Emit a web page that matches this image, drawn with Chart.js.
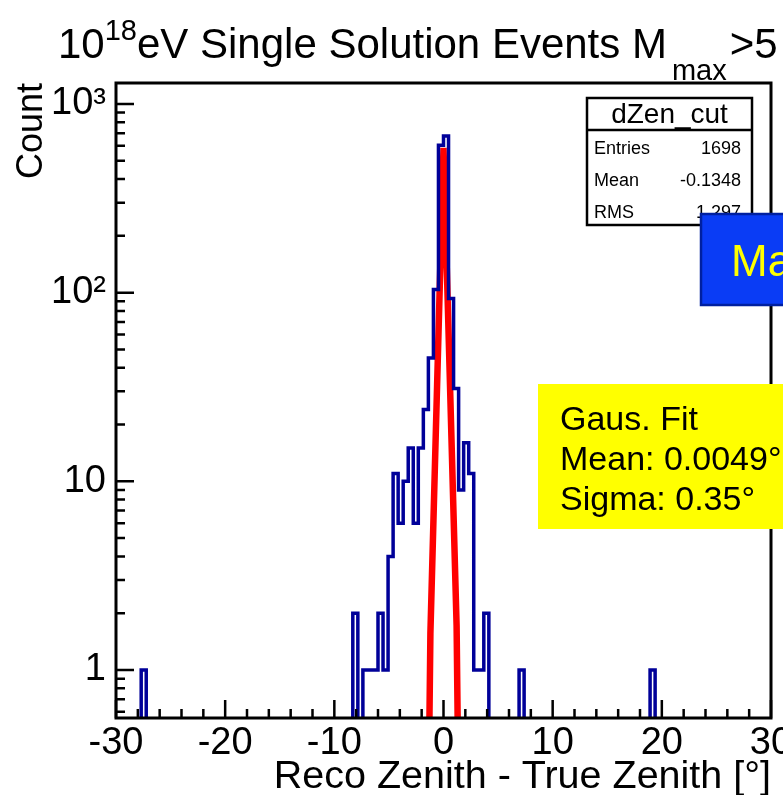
<!DOCTYPE html>
<html>
<head>
<meta charset="utf-8">
<script src="https://cdn.jsdelivr.net/npm/chart.js@4.4.1/dist/chart.umd.min.js"></script>
<style>
  html, body { margin: 0; padding: 0; background: #fff; }
  canvas { display: block; }
</style>
</head>
<body>
<canvas id="dzen" width="783" height="795"></canvas>
<script>
const FONT = '"Liberation Sans", Arial, Helvetica, sans-serif';

// dZen_cut: 130 bins between -30 and 30 degrees
const binLow = -30;
const binHigh = 30;
const binCounts = [
  0, 0, 0, 0, 0, 1, 0, 0, 0, 0,
  0, 0, 0, 0, 0, 0, 0, 0, 0, 0,
  0, 0, 0, 0, 0, 0, 0, 0, 0, 0,
  0, 0, 0, 0, 0, 0, 0, 0, 0, 0,
  0, 0, 0, 0, 0, 0, 0, 2, 0, 1,
  1, 1, 2, 1, 4, 11, 6, 10, 15, 6,
  15, 24, 45, 104, 605, 676, 93, 31, 9, 16,
  11, 1, 1, 2, 0, 0, 0, 0, 0, 0,
  1, 0, 0, 0, 0, 0, 0, 0, 0, 0,
  0, 0, 0, 0, 0, 0, 0, 0, 0, 0,
  0, 0, 0, 0, 0, 0, 1, 0, 0, 0,
  0, 0, 0, 0, 0, 0, 0, 0, 0, 0,
  0, 0, 0, 0, 0, 0, 0, 0, 0, 0
];

// gaussian fit result
const fitMean = 0.0049;
const fitSigma = 0.35;
const fitConstant = 585;
const fitStep = 1.2;

// axes
const xTicks = [-30, -20, -10, 0, 10, 20, 30];
const yMajor = [1, 10, 100, 1000];
const yMajorLabels = ['1', '10', '10\u00B2', '10\u00B3'];
const yMin = 0.5566;
const yMax = 1292;

// text boxes
const titleParts = [
  ['10', 'n'], ['18', 'sup'], ['eV Single Solution Events M', 'n'], ['max', 'sub'], ['>5', 'n']
];
const statsName = 'dZen_cut';
const statsRows = [['Entries', '1698'], ['Mean', '-0.1348'], ['RMS', '1.297']];
const fitLines = ['Gaus. Fit', 'Mean: 0.0049\u00B0', 'Sigma: 0.35\u00B0'];
const noteText = 'Ma';

// build step outline; empty bins sit below the axis and get clipped
const binWidth = (binHigh - binLow) / binCounts.length;
const emptyLevel = 0.01;
const histPoints = binCounts.map((c, i) => ({ x: binLow + i * binWidth, y: c > 0 ? c : emptyLevel }));
histPoints.push({ x: binHigh, y: emptyLevel });

const fitPoints = [];
for (let i = 0; binLow + i * fitStep <= binHigh + 1e-9; i++) {
  const x = binLow + i * fitStep;
  const u = (x - fitMean) / fitSigma;
  fitPoints.push({ x: x, y: Math.max(fitConstant * Math.exp(-0.5 * u * u), 1e-6) });
}

const yTickValues = [];
for (let e = -1; e <= 3; e++) {
  for (let d = 1; d <= 9; d++) {
    const v = +(d * Math.pow(10, e)).toPrecision(6);
    if (v >= yMin && v <= yMax) yTickValues.push(v);
  }
}

function drawFrame(chart) {
  const ctx = chart.ctx;
  const a = chart.chartArea;
  const xs = chart.scales.x, ys = chart.scales.y;
  ctx.save();
  ctx.strokeStyle = '#000';
  ctx.lineWidth = 2.5;
  ctx.beginPath();
  for (let v = binLow; v <= binHigh; v += 2) {
    const px = xs.getPixelForValue(v);
    const len = v % 10 === 0 ? 18 : 9;
    ctx.moveTo(px, a.bottom);
    ctx.lineTo(px, a.bottom - len);
  }
  yTickValues.forEach(v => {
    const py = ys.getPixelForValue(v);
    const len = yMajor.indexOf(v) >= 0 ? 18 : 9;
    ctx.moveTo(a.left, py);
    ctx.lineTo(a.left + len, py);
  });
  ctx.stroke();
  ctx.lineWidth = 3;
  ctx.strokeRect(a.left, a.top, a.right - a.left, a.bottom - a.top);
  ctx.restore();
}

function drawTitle(ctx) {
  ctx.save();
  ctx.fillStyle = '#000';
  ctx.textAlign = 'left';
  ctx.textBaseline = 'alphabetic';
  let x = 58;
  titleParts.forEach(([txt, kind]) => {
    let y = 58;
    if (kind === 'n') ctx.font = '42px ' + FONT;
    else ctx.font = '29px ' + FONT;
    if (kind === 'sup') y = 40;
    if (kind === 'sub') { y = 80; x += 5; }
    ctx.fillText(txt, x, y);
    x += ctx.measureText(txt).width;
    if (kind === 'sub') x += 3;
  });
  ctx.restore();
}

function drawStats(ctx) {
  const left = 587, top = 98, w = 165, h = 127, split = 130;
  ctx.save();
  ctx.fillStyle = '#fff';
  ctx.fillRect(left, top, w, h);
  ctx.strokeStyle = '#000';
  ctx.lineWidth = 2.5;
  ctx.strokeRect(left, top, w, h);
  ctx.beginPath();
  ctx.moveTo(left, split);
  ctx.lineTo(left + w, split);
  ctx.stroke();
  ctx.fillStyle = '#000';
  ctx.font = '28px ' + FONT;
  ctx.textAlign = 'center';
  ctx.textBaseline = 'alphabetic';
  ctx.fillText(statsName, left + w / 2, 123);
  ctx.font = '18px ' + FONT;
  statsRows.forEach(([name, val], i) => {
    const base = 154 + i * 32;
    ctx.textAlign = 'left';
    ctx.fillText(name, left + 7, base);
    ctx.textAlign = 'right';
    ctx.fillText(val, 741, base);
  });
  ctx.restore();
}

function drawNote(ctx) {
  ctx.save();
  ctx.fillStyle = '#0a3cf5';
  ctx.fillRect(701, 214, 90, 91);
  ctx.strokeStyle = '#0020a0';
  ctx.lineWidth = 2.5;
  ctx.strokeRect(701, 214, 90, 91);
  ctx.fillStyle = '#ffff00';
  ctx.font = '44px ' + FONT;
  ctx.textAlign = 'left';
  ctx.textBaseline = 'alphabetic';
  ctx.fillText(noteText, 731, 276);
  ctx.restore();
}

function drawFitBox(ctx) {
  ctx.save();
  ctx.fillStyle = '#ffff00';
  ctx.fillRect(538, 384, 250, 145);
  ctx.fillStyle = '#000';
  ctx.font = '34px ' + FONT;
  ctx.textAlign = 'left';
  ctx.textBaseline = 'alphabetic';
  fitLines.forEach((t, i) => ctx.fillText(t, 560, 430 + i * 40));
  ctx.restore();
}

const rootStyle = {
  id: 'rootStyle',
  afterDatasetsDraw(chart) {
    drawFrame(chart);
  },
  afterDraw(chart) {
    const ctx = chart.ctx;
    drawTitle(ctx);
    drawStats(ctx);
    drawNote(ctx);
    drawFitBox(ctx);
  }
};

const ctx = document.getElementById('dzen').getContext('2d');
new Chart(ctx, {
  type: 'line',
  data: {
    datasets: [
      {
        label: statsName,
        data: histPoints,
        stepped: true,
        borderColor: '#000099',
        borderWidth: 3.5,
        pointRadius: 0,
        fill: false
      },
      {
        // pale core of the outline
        label: statsName + ' core',
        data: histPoints,
        stepped: true,
        borderColor: 'rgba(205, 205, 240, 0.9)',
        borderWidth: 1,
        pointRadius: 0,
        fill: false
      },
      {
        label: fitLines[0],
        data: fitPoints,
        borderColor: '#ff0000',
        borderWidth: 6.5,
        borderJoinStyle: 'bevel',
        pointRadius: 0,
        fill: false
      }
    ]
  },
  options: {
    responsive: false,
    animation: false,
    devicePixelRatio: 1,
    layout: { padding: { top: 83, right: 12, left: 0, bottom: 0 } },
    plugins: {
      legend: { display: false },
      tooltip: { enabled: false }
    },
    scales: {
      x: {
        type: 'linear',
        min: binLow,
        max: binHigh,
        bounds: 'data',
        grid: { display: false, drawTicks: false },
        border: { display: false },
        afterBuildTicks: s => { s.ticks = xTicks.map(v => ({ value: v })); },
        ticks: {
          autoSkip: false,
          maxRotation: 0,
          padding: 3,
          color: '#000',
          font: { family: FONT, size: 38 },
          callback: v => String(v)
        },
        title: {
          display: true,
          text: 'Reco Zenith - True Zenith [\u00B0]',
          align: 'end',
          color: '#000',
          font: { family: FONT, size: 39.5, lineHeight: 0.9 },
          padding: 0
        },
        afterFit: s => { s.height = 77; s.paddingLeft = 0; s.paddingRight = 0; }
      },
      y: {
        type: 'logarithmic',
        min: yMin,
        max: yMax,
        bounds: 'data',
        grid: { display: false, drawTicks: false },
        border: { display: false },
        afterBuildTicks: s => { s.ticks = yTickValues.map(v => ({ value: v })); },
        ticks: {
          autoSkip: false,
          padding: 10,
          color: '#000',
          font: { family: FONT, size: 38 },
          callback: v => {
            const k = yMajor.indexOf(v);
            return k >= 0 ? yMajorLabels[k] : '';
          }
        },
        title: {
          display: true,
          text: 'Count',
          align: 'end',
          color: '#000',
          font: { family: FONT, size: 36, lineHeight: 1 },
          padding: { top: 14, bottom: 0 }
        },
        afterFit: s => { s.width = 116; s.paddingTop = 0; s.paddingBottom = 0; }
      }
    }
  },
  plugins: [rootStyle]
});
</script>
</body>
</html>
